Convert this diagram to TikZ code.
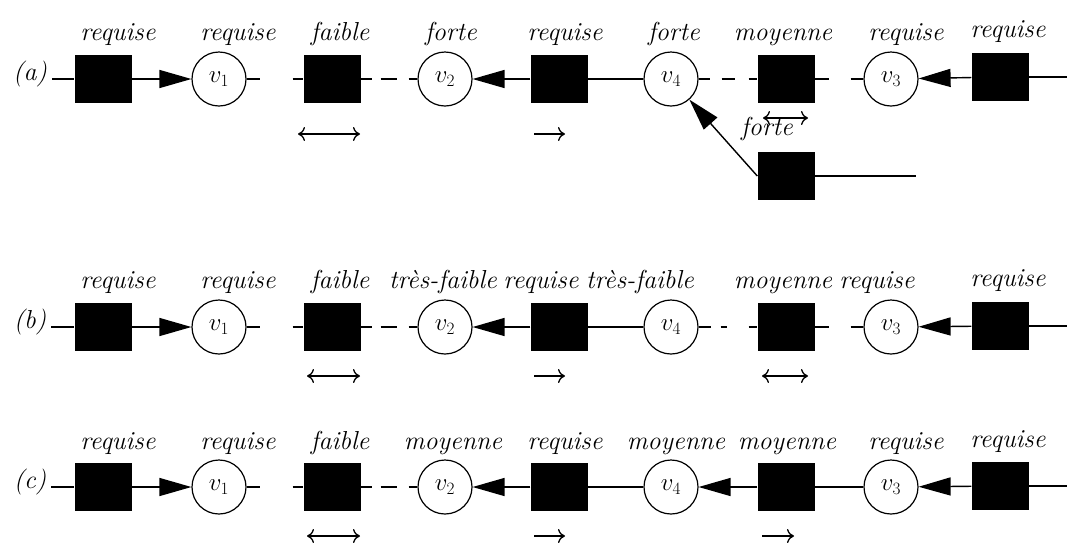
\documentclass[tikz,border=0pt]{standalone}
\usetikzlibrary{arrows.meta}
\begin{document}
\begin{tikzpicture}[x=1pt,y=-1pt,
  sq/.style={fill=black,minimum width=57pt,minimum height=48pt,inner sep=0pt},
  vc/.style={circle,draw,line width=1.2pt,minimum size=54pt,inner sep=0pt,font=\fontsize{27}{30}\selectfont},
  lbl/.style={anchor=base,inner sep=0pt,font=\fontsize{26}{30}\selectfont\itshape},
  rowlbl/.style={inner sep=0pt,font=\fontsize{26}{30}\selectfont\itshape},
  con/.style={line width=1.4pt},
  tri/.style={con,-{Triangle[length=32pt,width=18pt]}},
  symd/.style={line width=1.3pt,{Computer Modern Rightarrow[length=7pt,width=14pt]}-{Computer Modern Rightarrow[length=7pt,width=14pt]}},
  symr/.style={line width=1.3pt,-{Computer Modern Rightarrow[length=7pt,width=14pt]}}
]
\useasboundingbox (0,0) rectangle (1067,542);

% ---------------- row (a)
\node[rowlbl] (pa) at (30,74) {(a)};
\node[sq] (a1) at (103,79) {};
\node[vc] (av1) at (219,79) {$v_1$};
\node[sq] (a2) at (332,79) {};
\node[vc] (av2) at (445,79) {$v_2$};
\node[sq] (a3) at (559,79) {};
\node[vc] (av4) at (671,79) {$v_4$};
\node[sq] (a4) at (786,79) {};
\node[vc] (av3) at (891,79) {$v_3$};
\node[sq] (a5) at (1000,77) {};
\coordinate (ae) at (1067,77);
\node[sq] (a6) at (786,176) {};
\coordinate (af) at (916,176);

\draw[con] ([xshift=5pt]pa.east |- a1.west) -- (a1.west);
\draw[tri] (a1) -- (av1);
\draw[con,dash pattern=on 13pt off 33pt] (av1) -- (a2);
\draw[con,dash pattern=on 11pt off 9pt on 16pt off 12pt] (a2) -- (av2);
\draw[tri] (a3) -- (av2);
\draw[con] (a3) -- (av4);
\draw[con,dash pattern=on 11pt off 12pt on 13pt off 14pt] (av4) -- (a4);
\draw[con,dash pattern=on 14pt off 22pt] (a4) -- (av3);
\draw[tri] (a5) -- (av3);
\draw[con] (a5) -- (ae);
\draw[tri] (a6.west) -- (av4);
\draw[con] (a6) -- (af);

\node[lbl] (la1) at (118,40) {requise};
\node[lbl] (la2) at (238,40) {requise};
\node[lbl] (la3) at (340,40) {faible};
\node[lbl] (la4) at (451,40) {forte};
\node[lbl] (la5) at (565,40) {requise};
\node[lbl] (la6) at (674,40) {forte};
\node[lbl] (la7) at (783,40) {moyenne};
\node[lbl] (la8) at (906,40) {requise};
\node[lbl] (la9) at (1008,37) {requise};
\node[lbl] (la10) at (767,135) {forte};

\draw[symd] (298,134) -- (360,134);
\draw[symr] (534,134) -- (565,134);
\draw[symd] (763,118) -- (808,118);

% ---------------- row (b)
\node[rowlbl] (pb) at (30,322) {(b)};
\node[sq] (b1) at (103,327) {};
\node[vc] (bv1) at (219,327) {$v_1$};
\node[sq] (b2) at (332,327) {};
\node[vc] (bv2) at (445,327) {$v_2$};
\node[sq] (b3) at (559,327) {};
\node[vc] (bv4) at (671,327) {$v_4$};
\node[sq] (b4) at (786,327) {};
\node[vc] (bv3) at (891,327) {$v_3$};
\node[sq] (b5) at (1000,326) {};
\coordinate (be) at (1067,326);

\draw[con] ([xshift=5pt]pb.east |- b1.west) -- (b1.west);
\draw[tri] (b1) -- (bv1);
\draw[con,dash pattern=on 13pt off 33pt] (bv1) -- (b2);
\draw[con,dash pattern=on 11pt off 9pt on 16pt off 12pt] (b2) -- (bv2);
\draw[tri] (b3) -- (bv2);
\draw[con] (b3) -- (bv4);
\draw[con,dash pattern=on 12pt off 10pt on 6pt off 22pt] (bv4) -- (b4);
\draw[con,dash pattern=on 14pt off 22pt] (b4) -- (bv3);
\draw[tri] (b5) -- (bv3);
\draw[con] (b5) -- (be);

\node[lbl] (lb1) at (118,288) {requise};
\node[lbl] (lb2) at (238,288) {requise};
\node[lbl] (lb3) at (340,288) {faible};
\node[lbl] (lb4) at (443,288) {très-faible};
\node[lbl] (lb5) at (541,288) {requise};
\node[lbl] (lb6) at (640,288) {très-faible};
\node[lbl] (lb7) at (783,288) {moyenne};
\node[lbl] (lb8) at (877,288) {requise};
\node[lbl] (lb9) at (1008,286) {requise};

\draw[symd] (307,376) -- (360,376);
\draw[symr] (534,376) -- (565,376);
\draw[symd] (762,376) -- (808,376);

% ---------------- row (c)
\node[rowlbl] (pc) at (30,482) {(c)};
\node[sq] (c1) at (103,487) {};
\node[vc] (cv1) at (219,487) {$v_1$};
\node[sq] (c2) at (332,487) {};
\node[vc] (cv2) at (445,487) {$v_2$};
\node[sq] (c3) at (559,487) {};
\node[vc] (cv4) at (671,487) {$v_4$};
\node[sq] (c4) at (786,487) {};
\node[vc] (cv3) at (891,487) {$v_3$};
\node[sq] (c5) at (1000,486) {};
\coordinate (ce) at (1067,486);

\draw[con] ([xshift=5pt]pc.east |- c1.west) -- (c1.west);
\draw[tri] (c1) -- (cv1);
\draw[con,dash pattern=on 13pt off 33pt] (cv1) -- (c2);
\draw[con,dash pattern=on 11pt off 9pt on 16pt off 12pt] (c2) -- (cv2);
\draw[tri] (c3) -- (cv2);
\draw[con] (c3) -- (cv4);
\draw[tri] (c4) -- (cv4);
\draw[con] (c4) -- (cv3);
\draw[tri] (c5) -- (cv3);
\draw[con] (c5) -- (ce);

\node[lbl] (lc1) at (118,449) {requise};
\node[lbl] (lc2) at (238,449) {requise};
\node[lbl] (lc3) at (340,449) {faible};
\node[lbl] (lc4) at (453,449) {moyenne};
\node[lbl] (lc5) at (565,449) {requise};
\node[lbl] (lc6) at (676,449) {moyenne};
\node[lbl] (lc7) at (787,449) {moyenne};
\node[lbl] (lc8) at (906,449) {requise};
\node[lbl] (lc9) at (1008,447) {requise};

\draw[symd] (307,536) -- (360,536);
\draw[symr] (534,536) -- (565,536);
\draw[symr] (762,536) -- (794,536);
\end{tikzpicture}
\end{document}
